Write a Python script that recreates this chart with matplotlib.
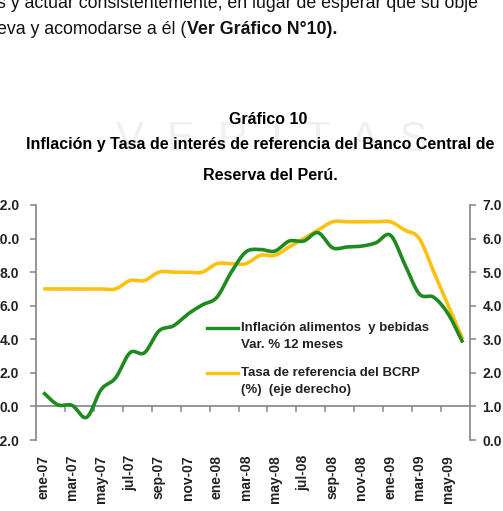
import numpy as np
import matplotlib
matplotlib.use("Agg")
import matplotlib.pyplot as plt
from matplotlib.transforms import blended_transform_factory

plt.rcParams['font.family'] = ['Liberation Sans', 'DejaVu Sans']

# meses ene-07 .. jun-09
meses = ["ene-07", "feb-07", "mar-07", "abr-07", "may-07", "jun-07", "jul-07", "ago-07",
         "sep-07", "oct-07", "nov-07", "dic-07", "ene-08", "feb-08", "mar-08", "abr-08",
         "may-08", "jun-08", "jul-08", "ago-08", "sep-08", "oct-08", "nov-08", "dic-08",
         "ene-09", "feb-09", "mar-09", "abr-09", "may-09", "jun-09"]

# Inflacion alimentos y bebidas, var. % 12 meses (eje izquierdo)
inflacion = [0.83, 0.10, 0.06, -0.65, 1.0, 1.7, 3.2, 3.2, 4.5, 4.8, 5.5, 6.05, 6.5,
             8.0, 9.2, 9.35, 9.25, 9.85, 9.85, 10.35, 9.45, 9.5, 9.55, 9.75, 10.2,
             8.45, 6.7, 6.5, 5.5, 3.8]

# Tasa de referencia del BCRP (eje derecho)
tasa = [4.5, 4.5, 4.5, 4.5, 4.5, 4.5, 4.75, 4.75, 5.0, 5.0, 5.0, 5.0, 5.25, 5.25, 5.25,
        5.5, 5.5, 5.75, 6.0, 6.25, 6.5, 6.5, 6.5, 6.5, 6.5, 6.25, 6.0, 5.0, 4.0, 3.0]

izq_ticks = [-2, 0, 2, 4, 6, 8, 10, 12]
der_ticks = [0, 1, 2, 3, 4, 5, 6, 7]


def suavizar(y, n=12):
    # linea suavizada tipo Excel (Catmull-Rom)
    y = np.asarray(y, float)
    x = np.arange(len(y), dtype=float)
    px = np.concatenate([[2 * x[0] - x[1]], x, [2 * x[-1] - x[-2]]])
    py = np.concatenate([[2 * y[0] - y[1]], y, [2 * y[-1] - y[-2]]])
    xs, ys = [], []
    t = np.linspace(0, 1, n, endpoint=False)
    for i in range(1, len(px) - 2):
        for arr, out in ((px, xs), (py, ys)):
            p0, p1, p2, p3 = arr[i - 1], arr[i], arr[i + 1], arr[i + 2]
            out.append(0.5 * (2 * p1 + (-p0 + p2) * t + (2 * p0 - 5 * p1 + 4 * p2 - p3) * t ** 2
                              + (-p0 + 3 * p1 - 3 * p2 + p3) * t ** 3))
    xs.append([x[-1]])
    ys.append([y[-1]])
    return np.concatenate(xs), np.concatenate(ys)


W, H = 503, 511
fig = plt.figure(figsize=(W / 100, H / 100), dpi=100)

# marca de agua
fig.text(272 / W, 1 - 140 / H, "V  E  R  I  T  A  S", color="#f0f0f0", fontsize=30,
         ha="center", va="center", zorder=0)

# texto del documento
fig.text(-0.005, 1 - 3 / H, "s y actuar consistentemente, en lugar de esperar que su obje",
         fontsize=12.8, ha="left", va="center", color="#111111")
fig.text(-0.005, 1 - 29 / H, "eva y acomodarse a él (", fontsize=12.8, ha="left",
         va="center", color="#111111")
t0 = fig.texts[-1]
fig.canvas.draw()
bb = t0.get_window_extent()
fig.text(bb.x1 / W, 1 - 29 / H, "Ver Gráfico N°10).", fontsize=12.8, fontweight="bold",
         ha="left", va="center", color="#111111")

fig.text(268 / W, 1 - 119 / H, "Gráfico 10", fontsize=11.5, fontweight="bold",
         ha="center", va="center")
fig.text(260 / W, 1 - 145 / H, "Inflación y Tasa de interés de referencia del Banco Central de",
         fontsize=11.5, fontweight="bold", ha="center", va="center")
fig.text(270 / W, 1 - 175 / H, "Reserva del Perú.", fontsize=11.5, fontweight="bold",
         ha="center", va="center")

ax = fig.add_axes([36 / W, 1 - 440 / H, (470 - 36) / W, (440 - 205) / H])
ax.patch.set_alpha(0)
ax2 = ax.twinx()

gx, gy = suavizar(inflacion)
ox, oy = suavizar(tasa)
verde = "#1f8a1f"
naranja = "#fcc010"
ax2.plot(ox, oy, color=naranja, lw=2.6, solid_capstyle="butt")
ax.plot(gx, gy, color=verde, lw=2.6, solid_capstyle="butt", zorder=5)
ax.set_zorder(ax2.get_zorder() + 1)

ax.set_xlim(-0.5, len(meses) - 0.5)
ax.set_ylim(-2, 12)
ax2.set_ylim(0, 7)

gris = "#8c8c8c"
for a in (ax, ax2):
    for s in ("top", "bottom"):
        a.spines[s].set_visible(False)
    a.spines["left"].set_color(gris)
    a.spines["right"].set_color(gris)
    a.spines["left"].set_linewidth(1.3)
    a.spines["right"].set_linewidth(1.3)
ax.spines["right"].set_visible(False)
ax2.spines["left"].set_visible(False)

ax.axhline(0, color=gris, lw=1.3, zorder=1)

ax.set_yticks(izq_ticks)
ax.set_yticklabels([f"{v:.1f}" for v in izq_ticks])
ax2.set_yticks(der_ticks)
ax2.set_yticklabels([f"{v:.1f}" for v in der_ticks])
ax.tick_params(axis="y", length=4, width=1.2, color=gris, pad=8, labelsize=10)
ax2.tick_params(axis="y", length=4, width=1.2, color=gris, pad=5, labelsize=10)
for lab in ax.get_yticklabels() + ax2.get_yticklabels():
    lab.set_fontweight("bold")
    lab.set_color("#222222")

# marcas del eje x sobre la linea cero
ax.set_xticks([])
tr = blended_transform_factory(ax.transData, ax.transAxes)
y0 = (0 - (-2)) / 14
for k in np.arange(1.5, len(meses) - 1, 2):
    ax.plot([k, k], [y0, y0 - 5 / 235], color=gris, lw=1.2, transform=tr, clip_on=False)
for i in range(0, len(meses), 2):
    ax.text(i, -15 / 235, meses[i], rotation=90, ha="center", va="top", transform=tr,
            fontsize=10, fontweight="bold", color="#222222")

# leyenda
tra = ax.transAxes


def px2ax(px, py):
    return (px - 36) / 434, (440 - py) / 235


for color, py, l1, l2 in ((verde, 328, "Inflación alimentos  y bebidas", "Var. % 12 meses"),
                          (naranja, 373, "Tasa de referencia del BCRP", "(%)  (eje derecho)")):
    a0 = px2ax(207, py)
    a1 = px2ax(238, py)
    ax.plot([a0[0], a1[0]], [a0[1], a1[1]], color=color, lw=2.4, transform=tra)
    ax.text(px2ax(241, py)[0], a0[1], l1, transform=tra, fontsize=9.5, fontweight="bold",
            ha="left", va="center", color="#222222")
    ax.text(px2ax(241, py + 17)[0], px2ax(0, py + 17)[1], l2, transform=tra, fontsize=9.5,
            fontweight="bold", ha="left", va="center", color="#222222")

fig.savefig("out.png", dpi=100)
